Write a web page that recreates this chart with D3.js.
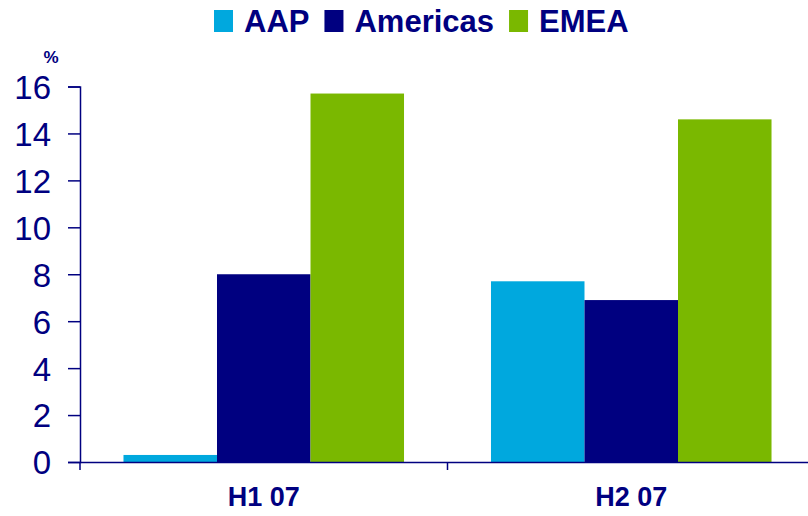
<!DOCTYPE html>
<html lang="en">
    <head>
        <meta charset="utf-8">
        <title>AAP / Americas / EMEA</title>
        <script type="text/javascript" src="https://d3js.org/d3.v7.min.js"></script>
        <style type="text/css">
            body { margin: 0; background: #fff; }
            svg { display: block; font-family: "Liberation Sans", Arial, sans-serif; }
        </style>
    </head>
    <body>
        <script type="text/javascript">

            // Datos
            var categories = ["H1 07", "H2 07"];
            var seriesNames = ["AAP", "Americas", "EMEA"];
            var aap = [0.3, 7.7];
            var americas = [8.0, 6.9];
            var emea = [15.7, 14.6];
            var yTicks = [0, 2, 4, 6, 8, 10, 12, 14, 16];

            var seriesValues = [aap, americas, emea];
            var colors = ["#00a8de", "#000080", "#7ab800"];
            var navy = "#000080";

            // Width and height
            var w = 808;
            var h = 516;
            var left = 80;
            var baseY = 462;
            var topY = 86.5;

            var svg = d3.select("body")
                .append("svg")
                .attr("width", w)
                .attr("height", h);

            // Escalas
            var x0 = d3.scaleBand()
                .domain(categories)
                .range([left, 815])
                .paddingInner(0)
                .paddingOuter(0);

            var x1 = d3.scaleBand()
                .domain(seriesNames)
                .range([0, x0.bandwidth()])
                .paddingInner(0)
                .paddingOuter(0.465);

            var y = d3.scaleLinear()
                .domain([0, 16])
                .range([baseY, topY]);

            // Barras
            var rows = [];
            categories.forEach(function(c, i) {
                seriesNames.forEach(function(s, j) {
                    rows.push({ cat: c, name: s, value: seriesValues[j][i], color: colors[j] });
                });
            });

            svg.append("g")
                .selectAll("rect")
                .data(rows)
                .enter()
                .append("rect")
                .attr("x", function(d) { return x0(d.cat) + x1(d.name); })
                .attr("y", function(d) { return y(d.value); })
                .attr("width", x1.bandwidth())
                .attr("height", function(d) { return y(0) - y(d.value); })
                .attr("fill", function(d) { return d.color; });

            // Eje Y
            var yAxis = d3.axisLeft(y)
                .tickValues(yTicks)
                .tickSize(12)
                .tickPadding(17)
                .tickFormat(d3.format("d"));

            var gy = svg.append("g")
                .attr("transform", "translate(" + left + ",0)")
                .call(yAxis);
            gy.select(".domain").attr("stroke", navy).attr("stroke-width", 1.5);
            gy.selectAll(".tick line").attr("stroke", navy).attr("stroke-width", 1.5);
            gy.selectAll(".tick text")
                .attr("fill", navy)
                .style("font-size", "33px")
                .attr("dy", "0.36em");

            // Eje X
            var xAxis = d3.axisBottom(x0).tickSize(0);
            var gx = svg.append("g")
                .attr("transform", "translate(0," + baseY + ")")
                .call(xAxis);
            gx.select(".domain").attr("stroke", navy).attr("stroke-width", 1.5);
            gx.selectAll(".tick text")
                .attr("fill", navy)
                .attr("y", 44)
                .attr("dy", 0)
                .style("font-size", "27px")
                .style("font-weight", "bold");

            // Marcadores entre categorias
            var edges = categories.map(function(c) { return x0(c); }).concat([x0.range()[1]]);
            svg.append("g")
                .selectAll("line")
                .data(edges)
                .enter()
                .append("line")
                .attr("x1", function(d) { return d; })
                .attr("x2", function(d) { return d; })
                .attr("y1", baseY)
                .attr("y2", baseY + 8)
                .attr("stroke", navy)
                .attr("stroke-width", 1.5);

            // Unidad
            svg.append("text")
                .attr("x", 51)
                .attr("y", 63)
                .attr("text-anchor", "middle")
                .attr("fill", navy)
                .style("font-size", "17px")
                .style("font-weight", "bold")
                .text("%");

            // Leyenda
            var legend = svg.append("g");
            var lx = 214;
            seriesNames.forEach(function(s, i) {
                legend.append("rect")
                    .attr("x", lx)
                    .attr("y", 10)
                    .attr("width", 19)
                    .attr("height", 22)
                    .attr("fill", colors[i]);
                var t = legend.append("text")
                    .attr("x", lx + 30)
                    .attr("y", 32)
                    .attr("fill", navy)
                    .style("font-size", "31px")
                    .style("font-weight", "bold")
                    .text(s);
                lx = lx + 30 + t.node().getComputedTextLength() + 15;
            });
        </script>
    </body>
</html>
